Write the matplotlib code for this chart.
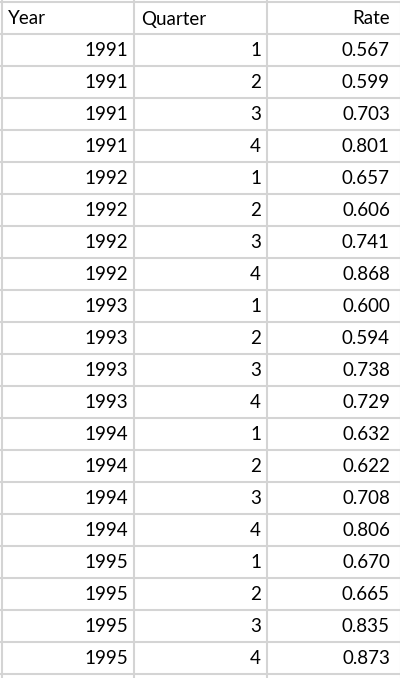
import matplotlib
matplotlib.use("Agg")
import matplotlib.pyplot as plt

years = [1991]*4 + [1992]*4 + [1993]*4 + [1994]*4 + [1995]*4
quarters = [1, 2, 3, 4] * 5
rates = [0.567, 0.599, 0.703, 0.801, 0.657, 0.606, 0.741, 0.868,
         0.600, 0.594, 0.738, 0.729, 0.632, 0.622, 0.708, 0.806,
         0.670, 0.665, 0.835, 0.873]
headers = ["Year", "Quarter", "Rate"]

fig = plt.figure(figsize=(4.0, 6.78), dpi=100)
ax = fig.add_axes([0, 0, 1, 1])
ax.set_xlim(0, 400)
ax.set_ylim(678, 0)
ax.axis("off")

top, rh = 2, 32
col_edges = [2, 134, 267, 401]
nrows = len(years) + 1
grid = "#d4d4d4"
for i in range(nrows + 1):
    ax.plot([0, 400], [top + i*rh]*2, color=grid, lw=1.5, solid_capstyle="butt")
for x in col_edges:
    ax.plot([x, x], [0, 678], color=grid, lw=1.5, solid_capstyle="butt")

fs = 13.5
font = "Lato"
ax.text(8, top + rh/2 + 1, headers[0], ha="left", va="center", fontsize=fs, family=font)
ax.text(141, top + rh/2 + 1, headers[1], ha="left", va="center", fontsize=fs, family=font)
ax.text(390, top + rh/2 + 1, headers[2], ha="right", va="center", fontsize=fs, family=font)
for i, (y, q, r) in enumerate(zip(years, quarters, rates)):
    yc = top + (i + 1.5)*rh + 1
    ax.text(128, yc, str(y), ha="right", va="center", fontsize=fs, family=font)
    ax.text(261, yc, str(q), ha="right", va="center", fontsize=fs, family=font)
    ax.text(390, yc, f"{r:.3f}", ha="right", va="center", fontsize=fs, family=font)

fig.savefig("out.png", dpi=100, facecolor="white")
